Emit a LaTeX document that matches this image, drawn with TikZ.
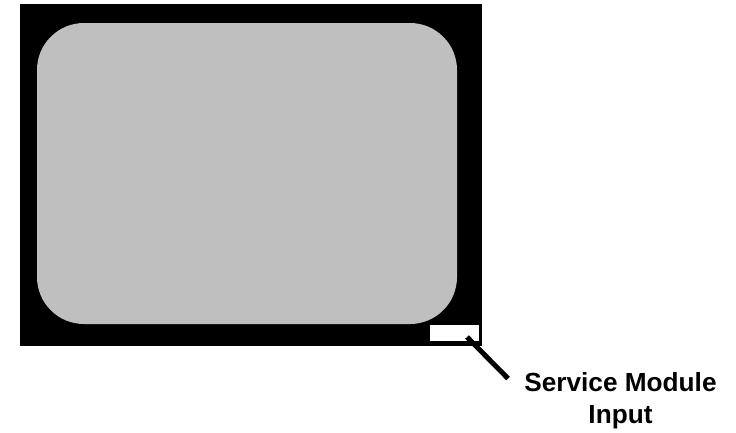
\documentclass[tikz,border=0pt]{standalone}
\usepackage{fontspec}
\setmainfont{Liberation Sans}
\tikzset{
  frame/.style={fill=black,draw=none},
  screen/.style={fill=black!25,draw=none,rounded corners=47pt},
  port/.style={fill=white,draw=none},
  leader/.style={draw=black,line width=5pt},
  caption/.style={font=\fontsize{26.2}{32}\selectfont\bfseries,align=center,inner sep=0pt}
}
\begin{document}
\begin{tikzpicture}[x=1pt,y=-1pt]
\useasboundingbox (0,0) rectangle (736,432);
\fill[frame] (19.5,4) rectangle (481.7,346);
\fill[screen] (37,23) rectangle (457,324);
\node[port,minimum width=49pt,minimum height=16pt,inner sep=0pt,anchor=north west] (port) at (430,325) {};
\coordinate (tip) at (467,337);
\coordinate (tail) at (508,378.5);
\node[caption] (label) at (620.5,400.5) {Service Module\\Input};
\draw[leader] (tip) -- (tail);
\end{tikzpicture}
\end{document}
